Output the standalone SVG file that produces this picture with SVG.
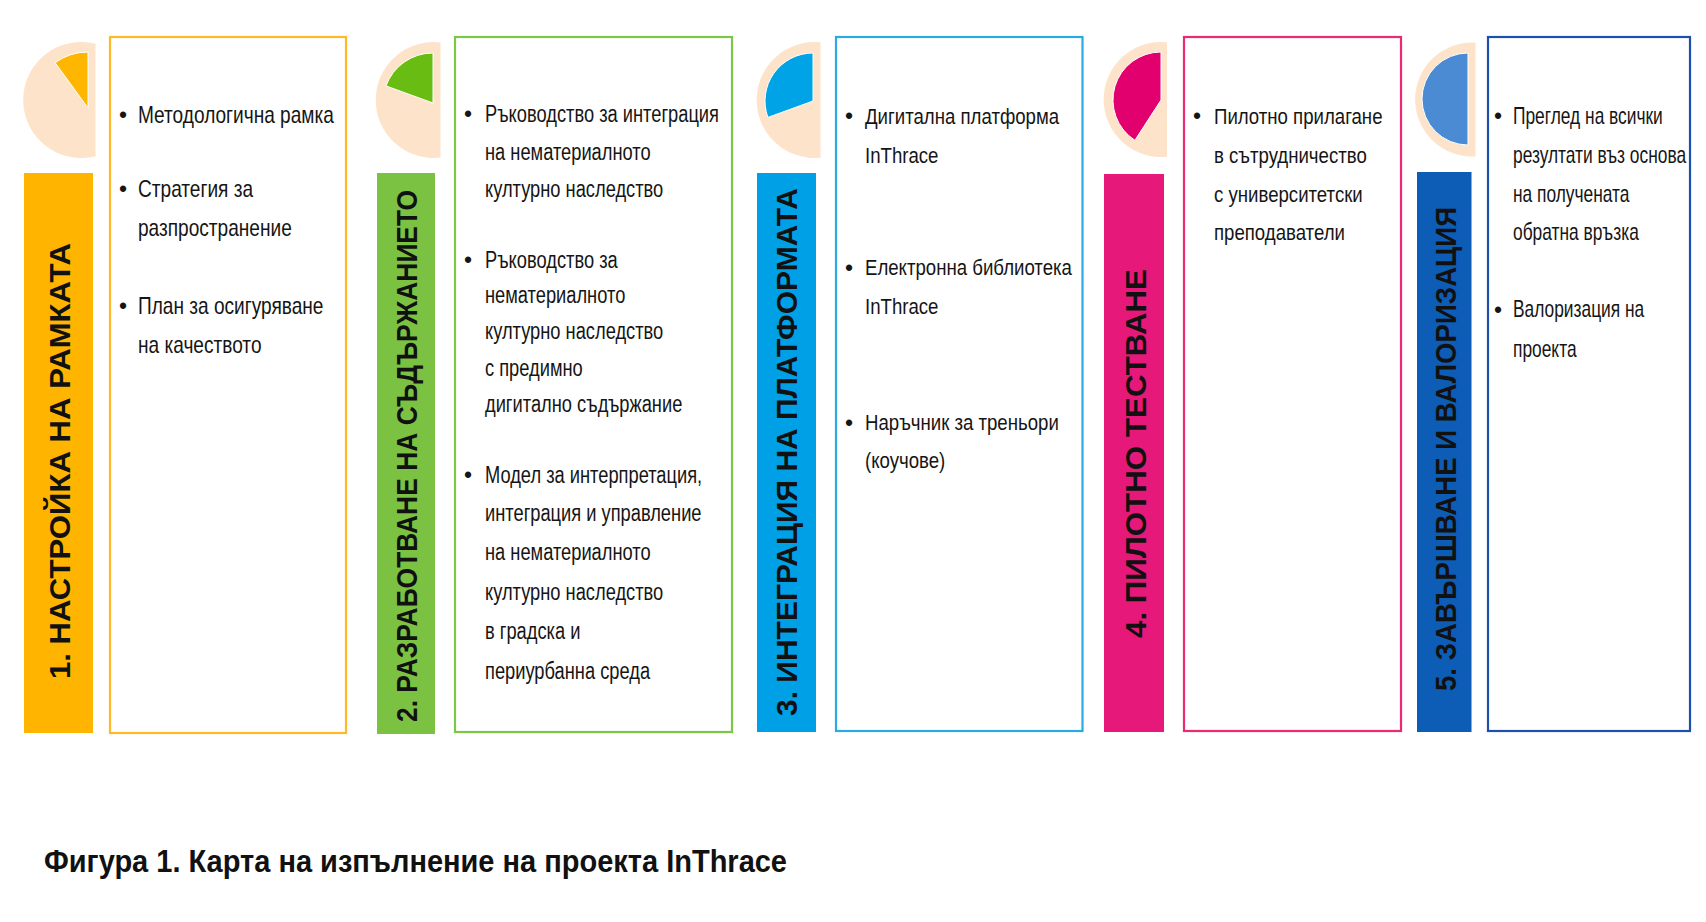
<svg xmlns="http://www.w3.org/2000/svg" width="1706" height="922" viewBox="0 0 1706 922">
  <style>
    .peach { fill: #FDE3CA; }
    .box { fill: #FFFFFF; stroke-width: 2.2; }
    .sector { stroke: #FFFFFF; stroke-width: 1; }
    .title { font-family: "Liberation Sans", Arial, sans-serif; font-weight: bold; font-size: 30px; fill: #111111; text-anchor: middle; }
    .body text { font-family: "Liberation Sans", Arial, sans-serif; font-size: 23px; fill: #151515; }
    .bullet { font-family: "Liberation Sans", Arial, sans-serif; font-size: 23px; fill: #151515; text-anchor: middle; }
    .caption { font-family: "Liberation Sans", Arial, sans-serif; font-weight: bold; font-size: 31px; fill: #111111; }
  </style>
  <rect x="0" y="0" width="1706" height="922" fill="#FFFFFF"/>

  <!-- Phase 1 -->
  <g id="phase1">
    <path class="peach" d="M95.5,43.8 A58,58 0 1 0 95.5,156.2 Z"/>
    <path class="sector" fill="#FFB600" d="M88,108 L88,52 A56,56 0 0 0 55.1,62.7 Z"/>
    <rect x="24" y="173" width="69" height="560" fill="#FFB400"/>
    <text class="title" transform="translate(70,461) rotate(-90)" textLength="436" lengthAdjust="spacingAndGlyphs">1. НАСТРОЙКА НА РАМКАТА</text>
    <rect class="box" x="110" y="37" width="236" height="696" stroke="#FDB927"/>
    <text class="bullet" x="123" y="123">•</text>
    <text class="bullet" x="123" y="197">•</text>
    <text class="bullet" x="123" y="314">•</text>
    <g class="body" transform="translate(138,0) scale(0.83,1)">
      <text x="0" y="123">Методологична рамка</text>
      <text x="0" y="197">Стратегия за</text>
      <text x="0" y="236">разпространение</text>
      <text x="0" y="314">План за осигуряване</text>
      <text x="0" y="353">на качеството</text>
    </g>
  </g>

  <!-- Phase 2 -->
  <g id="phase2">
    <path class="peach" d="M440.5,42.4 A58,58 0 1 0 440.5,157.6 Z"/>
    <path class="sector" fill="#69BD12" d="M433,103 L433,53 A50,50 0 0 0 386,85.9 Z"/>
    <rect x="377" y="173" width="58" height="561" fill="#7CC242"/>
    <text class="title" transform="translate(417,456) rotate(-90)" textLength="532" lengthAdjust="spacingAndGlyphs">2. РАЗРАБОТВАНЕ НА СЪДЪРЖАНИЕТО</text>
    <rect class="box" x="455" y="37" width="277" height="695" stroke="#7CC845"/>
    <text class="bullet" x="468" y="122">•</text>
    <text class="bullet" x="468" y="268">•</text>
    <text class="bullet" x="468" y="483">•</text>
    <g class="body" transform="translate(485,0) scale(0.795,1)">
      <text x="0" y="122">Ръководство за интеграция</text>
      <text x="0" y="160">на нематериалното</text>
      <text x="0" y="197">културно наследство</text>
      <text x="0" y="268">Ръководство за</text>
      <text x="0" y="303">нематериалното</text>
      <text x="0" y="339.5">културно наследство</text>
      <text x="0" y="376">с предимно</text>
      <text x="0" y="412.5">дигитално съдържание</text>
      <text x="0" y="483">Модел за интерпретация,</text>
      <text x="0" y="521">интеграция и управление</text>
      <text x="0" y="560">на нематериалното</text>
      <text x="0" y="600">културно наследство</text>
      <text x="0" y="639">в градска и</text>
      <text x="0" y="679">периурбанна среда</text>
    </g>
  </g>

  <!-- Phase 3 -->
  <g id="phase3">
    <path class="peach" d="M820.5,42.3 A58,58 0 1 0 820.5,157.7 Z"/>
    <path class="sector" fill="#00A3E6" d="M813,101 L813,53 A48,48 0 0 0 767.9,117.4 Z"/>
    <rect x="757" y="173" width="59" height="559" fill="#00A0E6"/>
    <text class="title" transform="translate(797,452) rotate(-90)" textLength="528" lengthAdjust="spacingAndGlyphs">3. ИНТЕГРАЦИЯ НА ПЛАТФОРМАТА</text>
    <rect class="box" x="836" y="37" width="246.5" height="694" stroke="#29AAE3"/>
    <text class="bullet" x="849" y="124">•</text>
    <text class="bullet" x="849" y="275.5">•</text>
    <text class="bullet" x="849" y="430.5">•</text>
    <g class="body" transform="translate(865,0) scale(0.81,1)">
      <text x="0" y="124">Дигитална платформа</text>
      <text x="0" y="163">InThrace</text>
      <text x="0" y="275.5">Електронна библиотека</text>
      <text x="0" y="314">InThrace</text>
      <text x="0" y="430.5">Наръчник за треньори</text>
      <text x="0" y="468">(коучове)</text>
    </g>
  </g>

  <!-- Phase 4 -->
  <g id="phase4">
    <path class="peach" d="M1167,42.3 A57.5,57.5 0 1 0 1167,156.7 Z"/>
    <path class="sector" fill="#E2006F" d="M1161,100 L1161,52 A48,48 0 0 0 1134.9,140.3 Z"/>
    <rect x="1104" y="174" width="60" height="558" fill="#E6197A"/>
    <text class="title" transform="translate(1145.5,453.5) rotate(-90)" textLength="369" lengthAdjust="spacingAndGlyphs">4. ПИЛОТНО ТЕСТВАНЕ</text>
    <rect class="box" x="1184" y="37" width="217" height="694" stroke="#EC2A74"/>
    <text class="bullet" x="1197" y="124">•</text>
    <g class="body" transform="translate(1214,0) scale(0.81,1)">
      <text x="0" y="124">Пилотно прилагане</text>
      <text x="0" y="163">в сътрудничество</text>
      <text x="0" y="202">с университетски</text>
      <text x="0" y="240">преподаватели</text>
    </g>
  </g>

  <!-- Phase 5 -->
  <g id="phase5">
    <path class="peach" d="M1475.5,42.6 A57,57 0 1 0 1475.5,156.4 Z"/>
    <path class="sector" fill="#4A8BD4" d="M1468,53 A46,46 0 0 0 1468,145 Z"/>
    <rect x="1417" y="172" width="54.5" height="560" fill="#0D5CB6"/>
    <text class="title" transform="translate(1455.5,449) rotate(-90)" textLength="484" lengthAdjust="spacingAndGlyphs">5. ЗАВЪРШВАНЕ И ВАЛОРИЗАЦИЯ</text>
    <rect class="box" x="1488" y="37" width="202" height="694" stroke="#1D4FAE"/>
    <text class="bullet" x="1498" y="124">•</text>
    <text class="bullet" x="1498" y="317.5">•</text>
    <g class="body" transform="translate(1513,0) scale(0.755,1)">
      <text x="0" y="124">Преглед на всички</text>
      <text x="0" y="163">резултати въз основа</text>
      <text x="0" y="202">на получената</text>
      <text x="0" y="240">обратна връзка</text>
      <text x="0" y="317.5">Валоризация на</text>
      <text x="0" y="357">проекта</text>
    </g>
  </g>

  <!-- No connectors in this figure -->
  <g id="connectors"></g>

  <g id="caption">
    <text class="caption" x="44" y="872" textLength="743" lengthAdjust="spacingAndGlyphs">Фигура 1. Карта на изпълнение на проекта InThrace</text>
  </g>
</svg>
